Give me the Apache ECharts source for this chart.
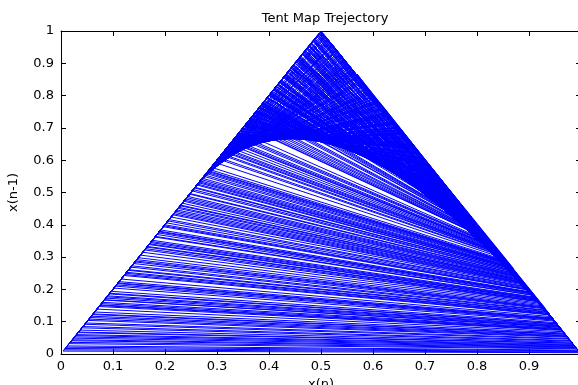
<!DOCTYPE html>
<html>
<head>
<meta charset="utf-8">
<script src="https://cdn.jsdelivr.net/npm/echarts@6/dist/echarts.min.js"></script>
<style>
  html, body { margin: 0; padding: 0; background: #fff; }
  #chart { width: 578px; height: 385px; }
</style>
</head>
<body>
<div id="chart"></div>
<script>
// trajectory x(n)
const trajectory = [
  0.137, 0.274, 0.548, 0.904, 0.192, 0.384, 0.768, 0.464, 0.928, 0.144,
  0.288, 0.576, 0.848, 0.304, 0.608, 0.784, 0.432, 0.864, 0.272, 0.544,
  0.912, 0.176, 0.352, 0.704, 0.592, 0.816, 0.368, 0.736, 0.528, 0.944,
  0.112, 0.224, 0.448, 0.896, 0.208, 0.416, 0.832, 0.336, 0.672, 0.656,
  0.688, 0.624, 0.752, 0.496, 0.992, 0.016, 0.032, 0.064, 0.128, 0.256,
  0.512, 0.976, 0.048, 0.096, 0.193, 0.386, 0.772, 0.456, 0.913, 0.174,
  0.348, 0.696, 0.607, 0.786, 0.428, 0.856, 0.289, 0.578, 0.844, 0.312,
  0.627, 0.746, 0.508, 0.984, 0.033, 0.066, 0.132, 0.264, 0.529, 0.942,
  0.116, 0.232, 0.465, 0.930, 0.140, 0.280, 0.560, 0.880, 0.240, 0.480,
  0.960, 0.080, 0.160, 0.320, 0.640, 0.720, 0.561, 0.878, 0.244, 0.488,
  0.977, 0.046, 0.092, 0.184, 0.369, 0.738, 0.524, 0.952, 0.097, 0.194,
  0.388, 0.776, 0.447, 0.894, 0.212, 0.424, 0.849, 0.302, 0.604, 0.792,
  0.417, 0.834, 0.332, 0.664, 0.673, 0.654, 0.692, 0.616, 0.767, 0.466,
  0.932, 0.136, 0.273, 0.546, 0.908, 0.185, 0.370, 0.740, 0.520, 0.961,
  0.078, 0.156, 0.313, 0.626, 0.748, 0.504, 0.991, 0.018, 0.036, 0.072,
  0.145, 0.290, 0.580, 0.840, 0.321, 0.642, 0.716, 0.568, 0.863, 0.275,
  0.550, 0.900, 0.200, 0.400, 0.800, 0.401, 0.802, 0.396, 0.793, 0.414,
  0.828, 0.344, 0.689, 0.622, 0.756, 0.487, 0.974, 0.052, 0.104, 0.209,
  0.418, 0.836, 0.328, 0.657, 0.686, 0.628, 0.744, 0.513, 0.973, 0.054,
  0.108, 0.216, 0.433, 0.866, 0.268, 0.536, 0.927, 0.146, 0.292, 0.584,
  0.831, 0.338, 0.676, 0.648, 0.703, 0.594, 0.812, 0.376, 0.753, 0.494,
  0.988, 0.024, 0.049, 0.098, 0.196, 0.392, 0.785, 0.430, 0.860, 0.281,
  0.562, 0.876, 0.248, 0.497, 0.994, 0.012, 0.025, 0.050, 0.100, 0.201,
  0.402, 0.804, 0.391, 0.782, 0.436, 0.872, 0.257, 0.514, 0.972, 0.056,
  0.113, 0.226, 0.452, 0.905, 0.190, 0.380, 0.760, 0.481, 0.962, 0.076,
  0.152, 0.305, 0.610, 0.780, 0.440, 0.881, 0.238, 0.476, 0.953, 0.094,
  0.188, 0.377, 0.754, 0.492, 0.983, 0.034, 0.068, 0.138, 0.276, 0.552,
  0.897, 0.206, 0.412, 0.824, 0.353, 0.706, 0.588, 0.823, 0.354, 0.708,
  0.585, 0.830, 0.340, 0.680, 0.641, 0.718, 0.564, 0.871, 0.258, 0.516,
  0.968, 0.065, 0.130, 0.260, 0.521, 0.958, 0.084, 0.168, 0.337, 0.674,
  0.652, 0.697, 0.606, 0.788, 0.423, 0.846, 0.308, 0.617, 0.766, 0.468,
  0.936, 0.129, 0.259, 0.518, 0.964, 0.073, 0.147, 0.294, 0.589, 0.822,
  0.356, 0.712, 0.577, 0.845, 0.310, 0.620, 0.761, 0.478, 0.956, 0.088,
  0.177, 0.355, 0.710, 0.581, 0.838, 0.324, 0.649, 0.702, 0.596, 0.808,
  0.385, 0.770, 0.460, 0.920, 0.161, 0.322, 0.644, 0.713, 0.574, 0.852,
  0.296, 0.593, 0.814, 0.372, 0.745, 0.510, 0.980, 0.040, 0.081, 0.162,
  0.325, 0.650, 0.700, 0.600, 0.799, 0.403, 0.806, 0.389, 0.778, 0.444,
  0.888, 0.223, 0.446, 0.892, 0.217, 0.434, 0.868, 0.263, 0.526, 0.948,
  0.105, 0.210, 0.420, 0.841, 0.318, 0.636, 0.728, 0.543, 0.914, 0.172,
  0.345, 0.690, 0.619, 0.762, 0.477, 0.954, 0.093, 0.186, 0.373, 0.747,
  0.506, 0.987, 0.026, 0.053, 0.106, 0.211, 0.422, 0.843, 0.314, 0.629,
  0.742, 0.517, 0.966, 0.069, 0.139, 0.278, 0.556, 0.887, 0.227, 0.454,
  0.909, 0.182, 0.364, 0.729, 0.542, 0.916, 0.169, 0.339, 0.678, 0.643,
  0.714, 0.572, 0.857, 0.286, 0.571, 0.858, 0.284, 0.567, 0.865, 0.270,
  0.540, 0.919, 0.163, 0.326, 0.653, 0.694, 0.612, 0.775, 0.450, 0.901,
  0.198, 0.397, 0.794, 0.411, 0.821, 0.358, 0.717, 0.566, 0.869, 0.262,
  0.523, 0.955, 0.090, 0.180, 0.360, 0.721, 0.558, 0.884, 0.233, 0.467,
  0.934, 0.131, 0.261, 0.522, 0.957, 0.086, 0.173, 0.346, 0.691, 0.618,
  0.764, 0.472, 0.945, 0.110, 0.220, 0.440, 0.879, 0.242, 0.484, 0.969,
  0.062, 0.124, 0.249, 0.498, 0.996, 0.008, 0.017, 0.035, 0.070, 0.141,
  0.282, 0.563, 0.874, 0.252, 0.505, 0.990, 0.020, 0.041, 0.082, 0.164,
  0.329, 0.658, 0.684, 0.632, 0.737, 0.527, 0.946, 0.109, 0.218, 0.437,
  0.873, 0.254, 0.509, 0.982, 0.037, 0.074, 0.148, 0.297, 0.595, 0.810,
  0.381, 0.763, 0.474, 0.949, 0.102, 0.204, 0.408, 0.817, 0.366, 0.732,
  0.537, 0.926, 0.149, 0.298, 0.597, 0.807, 0.387, 0.774, 0.453, 0.906,
  0.189, 0.378, 0.757, 0.486, 0.971, 0.058, 0.117, 0.234, 0.469, 0.938,
  0.123, 0.246, 0.493, 0.986, 0.028, 0.057, 0.114, 0.228, 0.457, 0.915,
  0.170, 0.341, 0.682, 0.637, 0.726, 0.549, 0.902, 0.197, 0.394, 0.789,
  0.421, 0.842, 0.316, 0.633, 0.734, 0.532, 0.937, 0.126, 0.253, 0.507,
  0.985, 0.030, 0.060, 0.120, 0.241, 0.482, 0.963, 0.075, 0.150, 0.300,
  0.601, 0.798, 0.404, 0.809, 0.382, 0.765, 0.470, 0.940, 0.121, 0.243,
  0.485, 0.970, 0.061, 0.122, 0.245, 0.490, 0.979, 0.042, 0.085, 0.171,
  0.342, 0.683, 0.634, 0.733, 0.534, 0.931, 0.142, 0.285, 0.570, 0.861,
  0.279, 0.559, 0.882, 0.236, 0.473, 0.947, 0.107, 0.214, 0.429, 0.859,
  0.283, 0.565, 0.870, 0.265, 0.530, 0.939, 0.125, 0.250, 0.501, 0.998,
  0.004, 0.009, 0.019, 0.038, 0.077, 0.154, 0.309, 0.615, 0.771, 0.458,
  0.917, 0.166, 0.333, 0.666, 0.668, 0.663, 0.675, 0.651, 0.698, 0.603,
  0.795, 0.410, 0.820, 0.361, 0.722, 0.555, 0.890, 0.221, 0.442, 0.885,
  0.230, 0.461, 0.922, 0.157, 0.315, 0.630, 0.739, 0.519, 0.959, 0.083,
  0.167, 0.334, 0.669, 0.662, 0.677, 0.646, 0.709, 0.582, 0.835, 0.330,
  0.660, 0.679, 0.645, 0.711, 0.579, 0.837, 0.327, 0.655, 0.693, 0.614,
  0.773, 0.455, 0.910, 0.181, 0.362, 0.724, 0.553, 0.893, 0.215, 0.431,
  0.862, 0.277, 0.554, 0.891, 0.219, 0.438, 0.877, 0.247, 0.495, 0.989,
  0.022, 0.044, 0.089, 0.178, 0.357, 0.715, 0.569, 0.867, 0.266, 0.533,
  0.933, 0.134, 0.269, 0.538, 0.924, 0.153, 0.306, 0.613, 0.779, 0.443,
  0.886, 0.229, 0.459, 0.918, 0.165, 0.331, 0.661, 0.681, 0.638, 0.723,
  0.551, 0.898, 0.203, 0.406, 0.813, 0.374, 0.749, 0.502, 0.995, 0.010,
  0.021, 0.043, 0.087, 0.175, 0.350, 0.699, 0.602, 0.796, 0.409, 0.818,
  0.363, 0.727, 0.547, 0.907, 0.187, 0.375, 0.751, 0.499, 0.997, 0.006,
  0.013, 0.027, 0.055, 0.111, 0.222, 0.445, 0.889, 0.225, 0.451, 0.903
]

const xTicks = ['0', '0.1', '0.2', '0.3', '0.4', '0.5', '0.6', '0.7', '0.8', '0.9', '']
const yTicks = ['0', '0.1', '0.2', '0.3', '0.4', '0.5', '0.6', '0.7', '0.8', '0.9', '1']

// pairs (x(n), x(n+1))
const points = trajectory.slice(0, -1).map((x, i) => [x, trajectory[i + 1]])

const FONT = 'DejaVu Sans, sans-serif'

const baseAxis = {
  type: 'value',
  min: 0,
  max: 1,
  interval: 0.1,
  splitLine: { show: false },
  axisLine: { show: true, onZero: false, lineStyle: { color: '#000', width: 1 } },
  axisTick: { show: true, inside: true, length: 5, lineStyle: { color: '#000' } },
}

const chart = echarts.init(document.getElementById('chart'), null, { renderer: 'canvas' })
chart.setOption({
  animation: false,
  backgroundColor: '#fff',
  title: {
    text: 'Tent Map Trejectory',
    left: 320,
    top: 7,
    textAlign: 'center',
    textStyle: { fontFamily: FONT, fontSize: 13, fontWeight: 'normal', color: '#000' },
  },
  // the right edge of the box sits just past the picture
  grid: { left: 61, top: 31, width: 520, height: 323, outerBoundsMode: 'none', containLabel: false },
  xAxis: [
    {
      ...baseAxis,
      position: 'bottom',
      name: 'x(n)',
      nameLocation: 'middle',
      nameGap: 20,
      nameTextStyle: { fontFamily: FONT, fontSize: 13, color: '#000' },
      axisLabel: {
        color: '#000',
        fontFamily: FONT,
        fontSize: 13,
        margin: 6,
        formatter: (v) => xTicks[Math.round(v * 10)],
      },
    },
    { ...baseAxis, position: 'top', axisLabel: { show: false } },
  ],
  yAxis: [
    {
      ...baseAxis,
      position: 'left',
      name: 'x(n-1)',
      nameLocation: 'middle',
      nameGap: 41,
      nameTextStyle: { fontFamily: FONT, fontSize: 13, color: '#000' },
      axisLabel: {
        color: '#000',
        fontFamily: FONT,
        fontSize: 13,
        margin: 7,
        formatter: (v) => yTicks[Math.round(v * 10)],
      },
    },
    { ...baseAxis, position: 'right', axisLabel: { show: false } },
  ],
  series: [
    {
      type: 'line',
      data: points,
      showSymbol: false,
      symbol: 'none',
      clip: true,
      lineStyle: { color: '#0000ff', width: 1 },
    },
  ],
})
</script>
</body>
</html>
